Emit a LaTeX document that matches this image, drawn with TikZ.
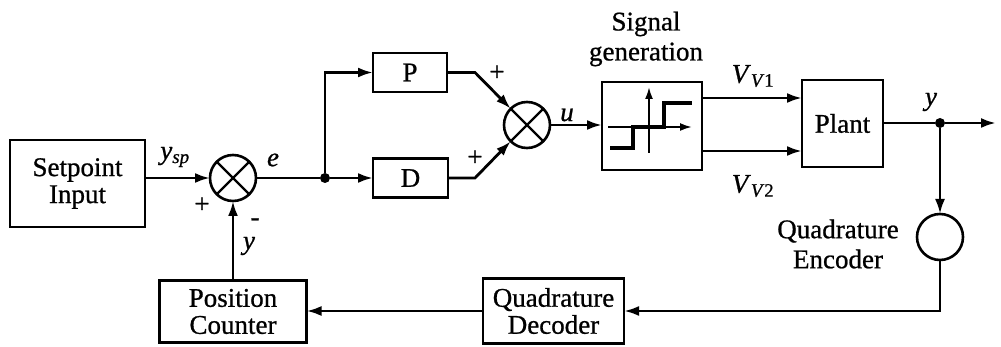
\documentclass[tikz,border=0pt]{standalone}
\usepackage{fontspec}
\setmainfont{Liberation Serif}[UprightFeatures={FakeBold=0.8}, ItalicFeatures={FakeBold=0.8}]
\usetikzlibrary{arrows.meta}
\begin{document}
\begin{tikzpicture}[x=1pt,y=-1pt,
  line width=2.8pt,
  every node/.style={font=\fontsize{27}{27}\selectfont, inner sep=0pt, outer sep=0pt},
  blk/.style={draw, align=center, line width=2.6pt},
  sumj/.style={draw, circle, minimum size=46pt, line width=2.6pt},
  arr/.style={-{Latex[length=15pt,width=10pt]}},
  jdot/.style={circle, fill, minimum size=10pt},
  lbl/.style={font=\fontsize{27}{27}\selectfont\itshape}]
\useasboundingbox (0,0) rectangle (1001,347);

% blocks
\node[blk, minimum width=135pt, minimum height=87pt] (sp) at (77.5,183.5) {Setpoint\\Input};
\node[sumj] (s1) at (233,178) {};
\draw[line width=2.4pt] (s1.45) -- (s1.225) (s1.135) -- (s1.315);
\node[jdot] (split) at (325,178) {};
\node[blk, minimum width=74pt, minimum height=39pt] (P) at (410,72.5) {P};
\node[blk, minimum width=75pt, minimum height=39pt] (D) at (410.5,178) {D};
\node[sumj] (s2) at (527,125) {};
\draw[line width=2.4pt] (s2.45) -- (s2.225) (s2.135) -- (s2.315);
\node[blk, minimum width=100pt, minimum height=88pt] (sg) at (652,126) {};
\node[blk, minimum width=81pt, minimum height=87pt] (pl) at (842.5,123.5) {Plant};
\node[jdot] (ydot) at (940,123) {};
\node[draw, circle, minimum size=46pt, line width=2.6pt] (enc) at (940,237) {};
\node[blk, minimum width=141pt, minimum height=65pt] (dec) at (553.5,311) {Quadrature\\Decoder};
\node[blk, minimum width=147pt, minimum height=62pt] (pc) at (233,311.5) {Position\\Counter};

% relay symbol inside signal generation
\draw[line width=2pt, -{Latex[length=12pt,width=8pt]}] (649,153) -- (649,87);
\draw[line width=2pt, -{Latex[length=12pt,width=8pt]}] (608,127) -- (692,127);
\draw[line width=3.4pt] (610,148) -- (633,148) -- (633,127) -- (664,127) -- (664,103) -- (692,103);

% coordinates
\coordinate (pk) at (475,72.5);
\coordinate (dk) at (475,178);
\coordinate (v1) at (702,98);
\coordinate (v2) at (702,151);
\coordinate (yout) at (996,123);

% connectors
\draw[arr] (sp.east |- s1) -- (s1.west);
\draw (s1.east) -- (split);
\draw[arr] (split) -- (D.west);
\draw[arr] (split) |- (P.west);
\draw[arr] (P.east) -- (pk) -- (s2.135);
\draw[arr] (D.east) -- (dk) -- (s2.225);
\draw[arr] (s2.east) -- (sg.west |- s2);
\draw[arr] (v1) -- (pl.west |- v1);
\draw[arr] (v2) -- (pl.west |- v2);
\draw (pl.east |- ydot) -- (ydot);
\draw[arr] (ydot) -- (yout);
\draw[arr] (ydot) -- (enc.north);
\draw[arr] (enc.south) |- (dec.east);
\draw[arr] (dec.west) -- (pc.east |- dec.west);
\draw[arr] (pc.north -| s1) -- (s1.south);

% labels
\node (lysp) at (175,157) {\textit{y}\textsubscript{\textit{sp}}};
\node[lbl] (le) at (273,160) {e};
\node (lplus1) at (202,205) {+};
\node (lminus) at (255,222) {-};
\node[lbl] (ly1) at (249,246) {y};
\node (lplusP) at (497,73) {+};
\node (lplusD) at (475,158) {+};
\node[lbl] (lu) at (567,115) {u};
\node[align=center, font=\fontsize{27}{30}\selectfont] (lsg) at (646,39) {Signal\\generation};
\node (lv1) at (753,76) {\textit{V}\textsubscript{\textit{V}1}};
\node (lv2) at (753,186) {\textit{V}\textsubscript{\textit{V}2}};
\node[lbl] (ly2) at (931,102) {y};
\node[align=center, font=\fontsize{27}{30}\selectfont] (lenc) at (838,244) {Quadrature\\Encoder};
\end{tikzpicture}
\end{document}
